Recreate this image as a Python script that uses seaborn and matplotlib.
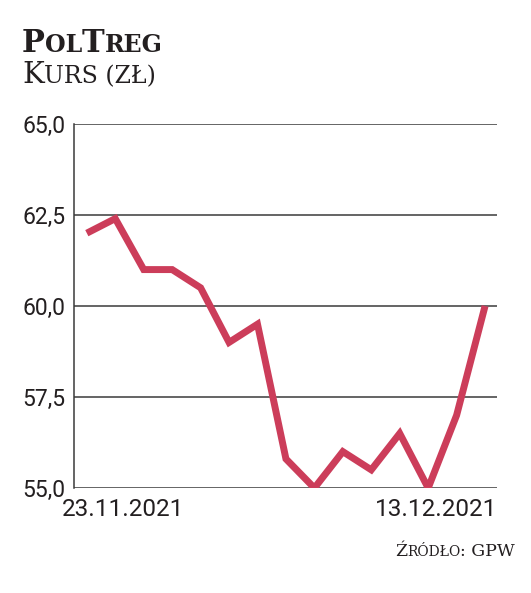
import matplotlib
matplotlib.use("Agg")
import matplotlib.pyplot as plt
import matplotlib.transforms as mtransforms
import pandas as pd
import seaborn as sb

sessions = ['23.11.2021', '24.11.2021', '25.11.2021', '26.11.2021', '29.11.2021',
            '30.11.2021', '01.12.2021', '02.12.2021', '03.12.2021', '06.12.2021',
            '07.12.2021', '08.12.2021', '09.12.2021', '10.12.2021', '13.12.2021']
kurs = [62.0, 62.4, 61.0, 61.0, 60.5, 59.0, 59.5, 55.8, 55.0, 56.0, 55.5, 56.5, 55.0, 57.0, 60.0]
y_ticks = [55.0, 57.5, 60.0, 62.5, 65.0]

df = pd.DataFrame({'nr': range(len(sessions)), 'sesja': sessions, 'kurs': kurs})

sb.set_style('white')
plt.rcParams['font.family'] = ['Roboto', 'DejaVu Sans']

ink = '#231f20'
red = '#cc3d5a'

fig = plt.figure(figsize=(5.31, 5.93), dpi=100)
ax = fig.add_axes([0.1394, 0.177, 0.7966, 0.614])

sb.lineplot(data=df, x='nr', y='kurs', color=red, linewidth=5.0, ax=ax,
            solid_joinstyle='miter', solid_capstyle='butt')

ax.set_ylim(55, 65)
ax.set_xlim(-0.45, 14.42)
ax.set_yticks(y_ticks)
ax.set_yticklabels([f'{v:.1f}'.replace('.', ',') for v in y_ticks])
ax.yaxis.grid(True, color='#3a3a3a', linewidth=1.1)
ax.set_axisbelow(True)
ax.set_xticks([0, len(sessions) - 1])
ax.set_xticklabels([sessions[0], sessions[-1]])
ax.tick_params(axis='y', length=0, labelsize=16.5, colors=ink, pad=6)
ax.tick_params(axis='x', length=0, labelsize=17.5, colors=ink, pad=7)
ax.set_xlabel('')
ax.set_ylabel('')
for s in ['top', 'right', 'bottom']:
    ax.spines[s].set_visible(False)
ax.spines['left'].set_color('#3a3a3a')
ax.spines['left'].set_linewidth(1.1)

lbls = ax.get_xticklabels()
lbls[0].set_ha('left')
lbls[0].set_transform(lbls[0].get_transform() + mtransforms.ScaledTranslation(-0.25, 0, fig.dpi_scale_trans))
lbls[1].set_ha('right')
lbls[1].set_transform(lbls[1].get_transform() + mtransforms.ScaledTranslation(0.12, 0, fig.dpi_scale_trans))

renderer = fig.canvas.get_renderer()


def small_caps(x_px, y_px, word_parts, big, small, weight, ha='left'):
    # fake small caps, drawn piece by piece
    pieces = [(part, big if is_big else small) for part, is_big in word_parts]
    widths = []
    for part, size in pieces:
        t = fig.text(0, 0, part, fontsize=size, family='DejaVu Serif', weight=weight)
        widths.append(t.get_window_extent(renderer).width)
        t.remove()
    x = x_px - sum(widths) if ha == 'right' else x_px
    H = fig.bbox.height
    for (part, size), w in zip(pieces, widths):
        fig.text(x / fig.bbox.width, 1 - y_px / H, part, fontsize=size,
                 family='DejaVu Serif', weight=weight, color=ink, va='baseline')
        x += w


small_caps(22, 52, [('P', True), ('OL', False), ('T', True), ('REG', False)], 22, 17, 'bold')
small_caps(22, 83, [('K', True), ('URS (ZŁ)', False)], 21, 17, 'normal')
small_caps(515, 556, [('Ź', True), ('RÓDŁO', False), (': GPW', True)], 12.5, 10, 'normal', ha='right')

fig.savefig('out.png', dpi=100)
